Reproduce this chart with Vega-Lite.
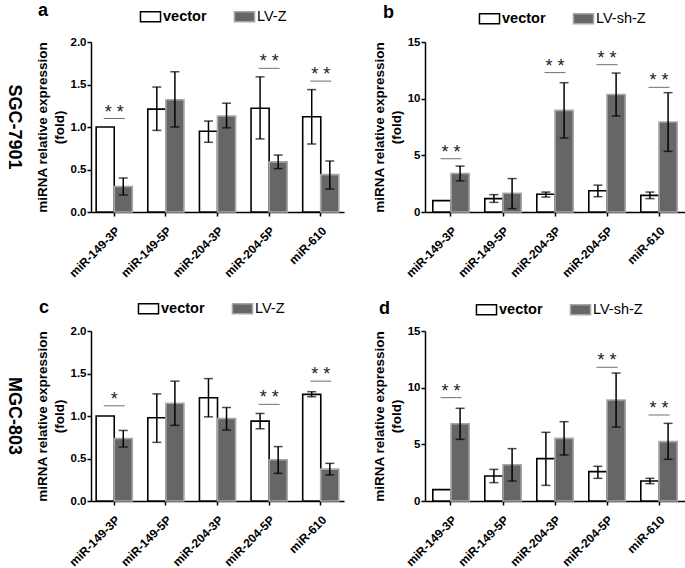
{
  "$schema": "https://vega.github.io/schema/vega-lite/v6.json",
  "padding": {"left": 5, "top": 7, "right": 0, "bottom": 0},
  "background": "white",
  "datasets": {
    "bars": [
      {"panel": "a", "mir": "miR-149-3P", "group": "vector", "value": 1.0, "lo": 1.0, "hi": 1.0},
      {"panel": "a", "mir": "miR-149-3P", "group": "LV-Z", "value": 0.30, "lo": 0.20, "hi": 0.40},
      {"panel": "a", "mir": "miR-149-5P", "group": "vector", "value": 1.21, "lo": 0.96, "hi": 1.47},
      {"panel": "a", "mir": "miR-149-5P", "group": "LV-Z", "value": 1.32, "lo": 1.00, "hi": 1.65},
      {"panel": "a", "mir": "miR-204-3P", "group": "vector", "value": 0.95, "lo": 0.82, "hi": 1.07},
      {"panel": "a", "mir": "miR-204-3P", "group": "LV-Z", "value": 1.13, "lo": 0.99, "hi": 1.28},
      {"panel": "a", "mir": "miR-204-5P", "group": "vector", "value": 1.22, "lo": 0.86, "hi": 1.59},
      {"panel": "a", "mir": "miR-204-5P", "group": "LV-Z", "value": 0.59, "lo": 0.51, "hi": 0.67},
      {"panel": "a", "mir": "miR-610", "group": "vector", "value": 1.12, "lo": 0.80, "hi": 1.44},
      {"panel": "a", "mir": "miR-610", "group": "LV-Z", "value": 0.44, "lo": 0.27, "hi": 0.60},

      {"panel": "b", "mir": "miR-149-3P", "group": "vector", "value": 1.0, "lo": 1.0, "hi": 1.0},
      {"panel": "b", "mir": "miR-149-3P", "group": "LV-sh-Z", "value": 3.4, "lo": 2.75, "hi": 4.05},
      {"panel": "b", "mir": "miR-149-5P", "group": "vector", "value": 1.18, "lo": 0.85, "hi": 1.53},
      {"panel": "b", "mir": "miR-149-5P", "group": "LV-sh-Z", "value": 1.65, "lo": 0.3, "hi": 2.95},
      {"panel": "b", "mir": "miR-204-3P", "group": "vector", "value": 1.56, "lo": 1.32, "hi": 1.76},
      {"panel": "b", "mir": "miR-204-3P", "group": "LV-sh-Z", "value": 8.97, "lo": 6.53, "hi": 11.41},
      {"panel": "b", "mir": "miR-204-5P", "group": "vector", "value": 1.88, "lo": 1.35, "hi": 2.37},
      {"panel": "b", "mir": "miR-204-5P", "group": "LV-sh-Z", "value": 10.37, "lo": 8.47, "hi": 12.26},
      {"panel": "b", "mir": "miR-610", "group": "vector", "value": 1.47, "lo": 1.18, "hi": 1.76},
      {"panel": "b", "mir": "miR-610", "group": "LV-sh-Z", "value": 7.94, "lo": 5.35, "hi": 10.53},

      {"panel": "c", "mir": "miR-149-3P", "group": "vector", "value": 1.0, "lo": 1.0, "hi": 1.0},
      {"panel": "c", "mir": "miR-149-3P", "group": "LV-Z", "value": 0.735, "lo": 0.635, "hi": 0.83},
      {"panel": "c", "mir": "miR-149-5P", "group": "vector", "value": 0.98, "lo": 0.69, "hi": 1.26},
      {"panel": "c", "mir": "miR-149-5P", "group": "LV-Z", "value": 1.15, "lo": 0.89, "hi": 1.41},
      {"panel": "c", "mir": "miR-204-3P", "group": "vector", "value": 1.215, "lo": 0.99, "hi": 1.44},
      {"panel": "c", "mir": "miR-204-3P", "group": "LV-Z", "value": 0.97, "lo": 0.835, "hi": 1.10},
      {"panel": "c", "mir": "miR-204-5P", "group": "vector", "value": 0.94, "lo": 0.85, "hi": 1.03},
      {"panel": "c", "mir": "miR-204-5P", "group": "LV-Z", "value": 0.485, "lo": 0.325, "hi": 0.64},
      {"panel": "c", "mir": "miR-610", "group": "vector", "value": 1.255, "lo": 1.227, "hi": 1.286},
      {"panel": "c", "mir": "miR-610", "group": "LV-Z", "value": 0.375, "lo": 0.306, "hi": 0.443},

      {"panel": "d", "mir": "miR-149-3P", "group": "vector", "value": 1.0, "lo": 1.0, "hi": 1.0},
      {"panel": "d", "mir": "miR-149-3P", "group": "LV-sh-Z", "value": 6.82, "lo": 5.44, "hi": 8.18},
      {"panel": "d", "mir": "miR-149-5P", "group": "vector", "value": 2.2, "lo": 1.62, "hi": 2.79},
      {"panel": "d", "mir": "miR-149-5P", "group": "LV-sh-Z", "value": 3.2, "lo": 1.76, "hi": 4.62},
      {"panel": "d", "mir": "miR-204-3P", "group": "vector", "value": 3.74, "lo": 1.38, "hi": 6.06},
      {"panel": "d", "mir": "miR-204-3P", "group": "LV-sh-Z", "value": 5.53, "lo": 4.06, "hi": 7.0},
      {"panel": "d", "mir": "miR-204-5P", "group": "vector", "value": 2.59, "lo": 2.0, "hi": 3.06},
      {"panel": "d", "mir": "miR-204-5P", "group": "LV-sh-Z", "value": 8.91, "lo": 6.53, "hi": 11.29},
      {"panel": "d", "mir": "miR-610", "group": "vector", "value": 1.76, "lo": 1.53, "hi": 2.0},
      {"panel": "d", "mir": "miR-610", "group": "LV-sh-Z", "value": 5.24, "lo": 3.68, "hi": 6.85}
    ],
    "sig": [
      {"panel": "a", "mir": "miR-149-3P", "y": 1.10, "label": "* *"},
      {"panel": "a", "mir": "miR-204-5P", "y": 1.69, "label": "* *"},
      {"panel": "a", "mir": "miR-610", "y": 1.54, "label": "* *"},
      {"panel": "b", "mir": "miR-149-3P", "y": 4.7, "label": "* *"},
      {"panel": "b", "mir": "miR-204-3P", "y": 12.3, "label": "* *"},
      {"panel": "b", "mir": "miR-204-5P", "y": 13.0, "label": "* *"},
      {"panel": "b", "mir": "miR-610", "y": 11.0, "label": "* *"},
      {"panel": "c", "mir": "miR-149-3P", "y": 1.12, "label": "*"},
      {"panel": "c", "mir": "miR-204-5P", "y": 1.137, "label": "* *"},
      {"panel": "c", "mir": "miR-610", "y": 1.41, "label": "* *"},
      {"panel": "d", "mir": "miR-149-3P", "y": 9.12, "label": "* *"},
      {"panel": "d", "mir": "miR-204-5P", "y": 11.8, "label": "* *"},
      {"panel": "d", "mir": "miR-610", "y": 7.59, "label": "* *"}
    ]
  },
  "vconcat": [
    {
      "hconcat": [
        {
          "width": 253, "height": 170,
          "title": {"text": "SGC-7901", "orient": "left", "angle": 90, "baseline": "top", "fontSize": 18, "fontWeight": "bold", "font": "Liberation Sans", "color": "black", "offset": -6},
          "layer": [
            {"data": {"name": "bars"}, "transform": [{"filter": "datum.panel === 'a'"}],
             "mark": {"type": "bar", "strokeWidth": 1.6},
             "encoding": {
               "x": {"field": "mir", "type": "nominal", "sort": null, "scale": {"paddingInner": 0.3, "paddingOuter": 0.1}, "axis": {"title": null, "labelAngle": -45}},
               "xOffset": {"field": "group", "type": "nominal", "sort": ["vector", "LV-Z"], "scale": {"paddingInner": 0, "paddingOuter": 0}},
               "y": {"field": "value", "type": "quantitative", "scale": {"domain": [0, 2], "nice": false}, "axis": {"values": [0, 0.5, 1, 1.5, 2], "format": ".1f", "title": ["miRNA relative expression", "(fold)"]}},
               "fill": {"field": "group", "type": "nominal", "scale": {"domain": ["vector", "LV-Z"], "range": ["#ffffff", "#666666"]}, "legend": {"title": "a", "legendX": -53, "legendY": -35, "titlePadding": 92, "titleBaseline": "alphabetic"}},
               "stroke": {"field": "group", "type": "nominal", "scale": {"domain": ["vector", "LV-Z"], "range": ["#000000", "#a8a8a8"]}, "legend": {"title": "a", "legendX": -53, "legendY": -35, "titlePadding": 92, "titleBaseline": "alphabetic"}}
             }},
            {"data": {"name": "bars"}, "transform": [{"filter": "datum.panel === 'a' && datum.hi > datum.lo"}],
             "mark": {"type": "rule", "color": "black", "strokeWidth": 1.5},
             "encoding": {"x": {"field": "mir", "type": "nominal", "sort": null}, "xOffset": {"field": "group", "type": "nominal", "sort": ["vector", "LV-Z"]}, "y": {"field": "lo", "type": "quantitative"}, "y2": {"field": "hi"}}},
            {"data": {"name": "bars"}, "transform": [{"filter": "datum.panel === 'a' && datum.hi > datum.lo"}],
             "mark": {"type": "tick", "orient": "horizontal", "color": "black", "size": 9, "thickness": 1.5},
             "encoding": {"x": {"field": "mir", "type": "nominal", "sort": null}, "xOffset": {"field": "group", "type": "nominal", "sort": ["vector", "LV-Z"]}, "y": {"field": "lo", "type": "quantitative"}}},
            {"data": {"name": "bars"}, "transform": [{"filter": "datum.panel === 'a' && datum.hi > datum.lo"}],
             "mark": {"type": "tick", "orient": "horizontal", "color": "black", "size": 9, "thickness": 1.5},
             "encoding": {"x": {"field": "mir", "type": "nominal", "sort": null}, "xOffset": {"field": "group", "type": "nominal", "sort": ["vector", "LV-Z"]}, "y": {"field": "hi", "type": "quantitative"}}},
            {"data": {"name": "sig"}, "transform": [{"filter": "datum.panel === 'a'"}],
             "mark": {"type": "tick", "orient": "horizontal", "color": "#333333", "size": 21, "thickness": 1},
             "encoding": {"x": {"field": "mir", "type": "nominal", "sort": null}, "y": {"field": "y", "type": "quantitative"}}},
            {"data": {"name": "sig"}, "transform": [{"filter": "datum.panel === 'a'"}],
             "mark": {"type": "text", "color": "#222222", "fontSize": 18, "dy": -6, "baseline": "middle", "font": "Liberation Sans"},
             "encoding": {"x": {"field": "mir", "type": "nominal", "sort": null}, "y": {"field": "y", "type": "quantitative"}, "text": {"field": "label"}}}
          ]
        },
        {
          "width": 260, "height": 170,
          "layer": [
            {"data": {"name": "bars"}, "transform": [{"filter": "datum.panel === 'b'"}],
             "mark": {"type": "bar", "strokeWidth": 1.6},
             "encoding": {
               "x": {"field": "mir", "type": "nominal", "sort": null, "scale": {"paddingInner": 0.3, "paddingOuter": 0.15}, "axis": {"title": null, "labelAngle": -45}},
               "xOffset": {"field": "group", "type": "nominal", "sort": ["vector", "LV-sh-Z"], "scale": {"paddingInner": 0, "paddingOuter": 0}},
               "y": {"field": "value", "type": "quantitative", "scale": {"domain": [0, 15], "nice": false}, "axis": {"values": [0, 5, 10, 15], "format": "d", "title": ["miRNA relative expression", "(fold)"]}},
               "fill": {"field": "group", "type": "nominal", "scale": {"domain": ["vector", "LV-sh-Z"], "range": ["#ffffff", "#666666"]}, "legend": {"title": "b", "legendX": -42, "legendY": -33, "titlePadding": 86, "titleBaseline": "alphabetic"}},
               "stroke": {"field": "group", "type": "nominal", "scale": {"domain": ["vector", "LV-sh-Z"], "range": ["#000000", "#a8a8a8"]}, "legend": {"title": "b", "legendX": -42, "legendY": -33, "titlePadding": 86, "titleBaseline": "alphabetic"}}
             }},
            {"data": {"name": "bars"}, "transform": [{"filter": "datum.panel === 'b' && datum.hi > datum.lo"}],
             "mark": {"type": "rule", "color": "black", "strokeWidth": 1.5},
             "encoding": {"x": {"field": "mir", "type": "nominal", "sort": null}, "xOffset": {"field": "group", "type": "nominal", "sort": ["vector", "LV-sh-Z"]}, "y": {"field": "lo", "type": "quantitative"}, "y2": {"field": "hi"}}},
            {"data": {"name": "bars"}, "transform": [{"filter": "datum.panel === 'b' && datum.hi > datum.lo"}],
             "mark": {"type": "tick", "orient": "horizontal", "color": "black", "size": 9, "thickness": 1.5},
             "encoding": {"x": {"field": "mir", "type": "nominal", "sort": null}, "xOffset": {"field": "group", "type": "nominal", "sort": ["vector", "LV-sh-Z"]}, "y": {"field": "lo", "type": "quantitative"}}},
            {"data": {"name": "bars"}, "transform": [{"filter": "datum.panel === 'b' && datum.hi > datum.lo"}],
             "mark": {"type": "tick", "orient": "horizontal", "color": "black", "size": 9, "thickness": 1.5},
             "encoding": {"x": {"field": "mir", "type": "nominal", "sort": null}, "xOffset": {"field": "group", "type": "nominal", "sort": ["vector", "LV-sh-Z"]}, "y": {"field": "hi", "type": "quantitative"}}},
            {"data": {"name": "sig"}, "transform": [{"filter": "datum.panel === 'b'"}],
             "mark": {"type": "tick", "orient": "horizontal", "color": "#333333", "size": 21, "thickness": 1},
             "encoding": {"x": {"field": "mir", "type": "nominal", "sort": null}, "y": {"field": "y", "type": "quantitative"}}},
            {"data": {"name": "sig"}, "transform": [{"filter": "datum.panel === 'b'"}],
             "mark": {"type": "text", "color": "#222222", "fontSize": 18, "dy": -6, "baseline": "middle", "font": "Liberation Sans"},
             "encoding": {"x": {"field": "mir", "type": "nominal", "sort": null}, "y": {"field": "y", "type": "quantitative"}, "text": {"field": "label"}}}
          ]
        }
      ],
      "spacing": 28,
      "resolve": {"scale": {"x": "independent", "y": "independent", "xOffset": "independent", "fill": "independent", "stroke": "independent"}, "legend": {"fill": "independent", "stroke": "independent"}}
    },
    {
      "hconcat": [
        {
          "width": 253, "height": 170,
          "title": {"text": "MGC-803", "orient": "left", "angle": 90, "baseline": "top", "fontSize": 18, "fontWeight": "bold", "font": "Liberation Sans", "color": "black", "offset": -6},
          "layer": [
            {"data": {"name": "bars"}, "transform": [{"filter": "datum.panel === 'c'"}],
             "mark": {"type": "bar", "strokeWidth": 1.6},
             "encoding": {
               "x": {"field": "mir", "type": "nominal", "sort": null, "scale": {"paddingInner": 0.3, "paddingOuter": 0.1}, "axis": {"title": null, "labelAngle": -45}},
               "xOffset": {"field": "group", "type": "nominal", "sort": ["vector", "LV-Z"], "scale": {"paddingInner": 0, "paddingOuter": 0}},
               "y": {"field": "value", "type": "quantitative", "scale": {"domain": [0, 2], "nice": false}, "axis": {"values": [0, 0.5, 1, 1.5, 2], "format": ".1f", "title": ["miRNA relative expression", "(fold)"]}},
               "fill": {"field": "group", "type": "nominal", "scale": {"domain": ["vector", "LV-Z"], "range": ["#ffffff", "#666666"]}, "legend": {"title": "c", "legendX": -52, "legendY": -32, "titlePadding": 89, "titleBaseline": "middle"}},
               "stroke": {"field": "group", "type": "nominal", "scale": {"domain": ["vector", "LV-Z"], "range": ["#000000", "#a8a8a8"]}, "legend": {"title": "c", "legendX": -52, "legendY": -32, "titlePadding": 89, "titleBaseline": "middle"}}
             }},
            {"data": {"name": "bars"}, "transform": [{"filter": "datum.panel === 'c' && datum.hi > datum.lo"}],
             "mark": {"type": "rule", "color": "black", "strokeWidth": 1.5},
             "encoding": {"x": {"field": "mir", "type": "nominal", "sort": null}, "xOffset": {"field": "group", "type": "nominal", "sort": ["vector", "LV-Z"]}, "y": {"field": "lo", "type": "quantitative"}, "y2": {"field": "hi"}}},
            {"data": {"name": "bars"}, "transform": [{"filter": "datum.panel === 'c' && datum.hi > datum.lo"}],
             "mark": {"type": "tick", "orient": "horizontal", "color": "black", "size": 9, "thickness": 1.5},
             "encoding": {"x": {"field": "mir", "type": "nominal", "sort": null}, "xOffset": {"field": "group", "type": "nominal", "sort": ["vector", "LV-Z"]}, "y": {"field": "lo", "type": "quantitative"}}},
            {"data": {"name": "bars"}, "transform": [{"filter": "datum.panel === 'c' && datum.hi > datum.lo"}],
             "mark": {"type": "tick", "orient": "horizontal", "color": "black", "size": 9, "thickness": 1.5},
             "encoding": {"x": {"field": "mir", "type": "nominal", "sort": null}, "xOffset": {"field": "group", "type": "nominal", "sort": ["vector", "LV-Z"]}, "y": {"field": "hi", "type": "quantitative"}}},
            {"data": {"name": "sig"}, "transform": [{"filter": "datum.panel === 'c'"}],
             "mark": {"type": "tick", "orient": "horizontal", "color": "#333333", "size": 21, "thickness": 1},
             "encoding": {"x": {"field": "mir", "type": "nominal", "sort": null}, "y": {"field": "y", "type": "quantitative"}}},
            {"data": {"name": "sig"}, "transform": [{"filter": "datum.panel === 'c'"}],
             "mark": {"type": "text", "color": "#222222", "fontSize": 18, "dy": -6, "baseline": "middle", "font": "Liberation Sans"},
             "encoding": {"x": {"field": "mir", "type": "nominal", "sort": null}, "y": {"field": "y", "type": "quantitative"}, "text": {"field": "label"}}}
          ]
        },
        {
          "width": 260, "height": 170,
          "layer": [
            {"data": {"name": "bars"}, "transform": [{"filter": "datum.panel === 'd'"}],
             "mark": {"type": "bar", "strokeWidth": 1.6},
             "encoding": {
               "x": {"field": "mir", "type": "nominal", "sort": null, "scale": {"paddingInner": 0.3, "paddingOuter": 0.15}, "axis": {"title": null, "labelAngle": -45}},
               "xOffset": {"field": "group", "type": "nominal", "sort": ["vector", "LV-sh-Z"], "scale": {"paddingInner": 0, "paddingOuter": 0}},
               "y": {"field": "value", "type": "quantitative", "scale": {"domain": [0, 15], "nice": false}, "axis": {"values": [0, 5, 10, 15], "format": "d", "title": ["miRNA relative expression", "(fold)"]}},
               "fill": {"field": "group", "type": "nominal", "scale": {"domain": ["vector", "LV-sh-Z"], "range": ["#ffffff", "#666666"]}, "legend": {"title": "d", "legendX": -46, "legendY": -31, "titlePadding": 87, "titleBaseline": "middle"}},
               "stroke": {"field": "group", "type": "nominal", "scale": {"domain": ["vector", "LV-sh-Z"], "range": ["#000000", "#a8a8a8"]}, "legend": {"title": "d", "legendX": -46, "legendY": -31, "titlePadding": 87, "titleBaseline": "middle"}}
             }},
            {"data": {"name": "bars"}, "transform": [{"filter": "datum.panel === 'd' && datum.hi > datum.lo"}],
             "mark": {"type": "rule", "color": "black", "strokeWidth": 1.5},
             "encoding": {"x": {"field": "mir", "type": "nominal", "sort": null}, "xOffset": {"field": "group", "type": "nominal", "sort": ["vector", "LV-sh-Z"]}, "y": {"field": "lo", "type": "quantitative"}, "y2": {"field": "hi"}}},
            {"data": {"name": "bars"}, "transform": [{"filter": "datum.panel === 'd' && datum.hi > datum.lo"}],
             "mark": {"type": "tick", "orient": "horizontal", "color": "black", "size": 9, "thickness": 1.5},
             "encoding": {"x": {"field": "mir", "type": "nominal", "sort": null}, "xOffset": {"field": "group", "type": "nominal", "sort": ["vector", "LV-sh-Z"]}, "y": {"field": "lo", "type": "quantitative"}}},
            {"data": {"name": "bars"}, "transform": [{"filter": "datum.panel === 'd' && datum.hi > datum.lo"}],
             "mark": {"type": "tick", "orient": "horizontal", "color": "black", "size": 9, "thickness": 1.5},
             "encoding": {"x": {"field": "mir", "type": "nominal", "sort": null}, "xOffset": {"field": "group", "type": "nominal", "sort": ["vector", "LV-sh-Z"]}, "y": {"field": "hi", "type": "quantitative"}}},
            {"data": {"name": "sig"}, "transform": [{"filter": "datum.panel === 'd'"}],
             "mark": {"type": "tick", "orient": "horizontal", "color": "#333333", "size": 21, "thickness": 1},
             "encoding": {"x": {"field": "mir", "type": "nominal", "sort": null}, "y": {"field": "y", "type": "quantitative"}}},
            {"data": {"name": "sig"}, "transform": [{"filter": "datum.panel === 'd'"}],
             "mark": {"type": "text", "color": "#222222", "fontSize": 18, "dy": -6, "baseline": "middle", "font": "Liberation Sans"},
             "encoding": {"x": {"field": "mir", "type": "nominal", "sort": null}, "y": {"field": "y", "type": "quantitative"}, "text": {"field": "label"}}}
          ]
        }
      ],
      "spacing": 28,
      "resolve": {"scale": {"x": "independent", "y": "independent", "xOffset": "independent", "fill": "independent", "stroke": "independent"}, "legend": {"fill": "independent", "stroke": "independent"}}
    }
  ],
  "spacing": 20,
  "resolve": {"scale": {"x": "independent", "y": "independent", "xOffset": "independent", "fill": "independent", "stroke": "independent"}, "legend": {"fill": "independent", "stroke": "independent"}},
  "config": {
    "font": "Liberation Sans",
    "view": {"stroke": null},
    "axis": {"grid": false, "domainColor": "black", "domainWidth": 1.5, "tickColor": "black", "tickWidth": 1.5, "tickSize": 4, "labelColor": "black", "labelFont": "Liberation Sans", "labelFontWeight": "bold", "titleFont": "Liberation Sans", "titleFontWeight": "bold", "titleFontSize": 13.5, "titleColor": "black", "titleLineHeight": 17, "titlePadding": 4},
    "axisX": {"labelFontSize": 12, "labelPadding": 9},
    "axisY": {"labelFontSize": 11.5, "labelPadding": 1},
    "legend": {"orient": "none", "direction": "horizontal", "titleOrient": "left", "titleFont": "Liberation Sans", "titleFontSize": 18, "titleFontWeight": "bold", "titleColor": "black", "symbolType": "M-1.2,-0.6H1.2V0.6H-1.2Z", "symbolSize": 280, "symbolStrokeWidth": 1.5, "labelFont": "Liberation Sans", "labelFontSize": 14.5, "labelColor": "black", "labelFontWeight": {"expr": "datum.value === 'vector' ? 'bold' : 'normal'"}, "columnPadding": 24, "labelOffset": 3, "symbolOpacity": 1}
  }
}
